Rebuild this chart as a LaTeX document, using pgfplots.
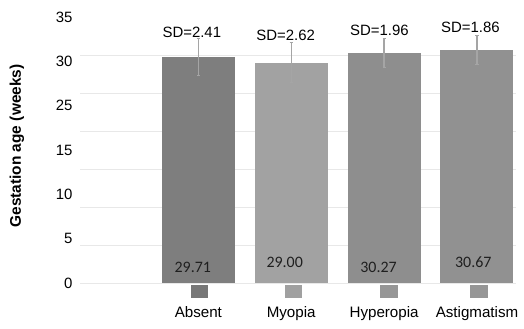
\documentclass[border=0pt]{standalone}
\usepackage{pgfplots}
\pgfplotsset{compat=1.18}
\usepackage{fontspec}
\setmainfont{Liberation Sans}
\newfontfamily\carlito{Carlito}
\definecolor{cAbs}{HTML}{7E7E7E}
\definecolor{cMyo}{HTML}{A2A2A2}
\definecolor{cHyp}{HTML}{8E8E8E}
\definecolor{cAst}{HTML}{919191}
\definecolor{lAbs}{HTML}{777777}
\definecolor{lMyo}{HTML}{A0A0A0}
\definecolor{lHyp}{HTML}{969696}
\definecolor{lAst}{HTML}{969696}
\definecolor{gridc}{HTML}{E8E8E8}
\definecolor{errc}{HTML}{A5A5A5}
\begin{document}
\begin{tikzpicture}
\begin{axis}[
  scale only axis, width=436bp, height=266bp,
  xmin=-1.274, xmax=3.42, ymin=0, ymax=35,
  clip=false,
  axis line style={draw=none},
  tick style={draw=none},
  /pgf/number format/assume math mode=true,
  ytick={0,5.8333,11.6667,17.5,23.3333,29.1667,35},
  yticklabels={0,5,10,15,25,30,35},
  yticklabel style={font=\fontsize{15}{18}\selectfont, xshift=-4bp},
  extra y ticks={0,5,10,15,20,25,30},
  extra y tick labels={},
  extra y tick style={grid=major, major grid style={gridc, line width=0.8bp}},
  xtick={0,1,2,3},
  xticklabels={Absent,Myopia,Hyperopia,Astigmatism},
  xticklabel style={font=\fontsize{15.2}{18}\selectfont, anchor=north, yshift=-16bp},
  ylabel={Gestation age (weeks)},
  every axis y label/.style={at={(axis description cs:-0.1445,0.515)}, rotate=90, anchor=center, font=\fontsize{15.5}{18}\selectfont\bfseries},
  ybar, bar width=73bp, bar shift=0pt,
  error bars/error bar style={errc, line width=1.3bp},
  error bars/error mark options={rotate=90, mark size=1.6bp, line width=1bp, errc},
]
\addplot[fill=cAbs, draw=none, error bars/.cd, y dir=both, y explicit] coordinates {(0,29.71) +- (0,2.41)};
\addplot[fill=cMyo, draw=none, error bars/.cd, y dir=both, y explicit] coordinates {(1,29.00) +- (0,2.62)};
\addplot[fill=cHyp, draw=none, error bars/.cd, y dir=both, y explicit] coordinates {(2,30.27) +- (0,1.96)};
\addplot[fill=cAst, draw=none, error bars/.cd, y dir=both, y explicit] coordinates {(3,30.67) +- (0,1.86)};
% legend squares
\addplot[only marks, mark=square*, mark size=6bp, mark options={xscale=1.38, lAbs, draw=none}] coordinates {(0.01,-1.05)};
\addplot[only marks, mark=square*, mark size=6bp, mark options={xscale=1.38, lMyo, draw=none}] coordinates {(1.02,-1.05)};
\addplot[only marks, mark=square*, mark size=6bp, mark options={xscale=1.38, lHyp, draw=none}] coordinates {(2.05,-1.05)};
\addplot[only marks, mark=square*, mark size=6bp, mark options={xscale=1.38, lAst, draw=none}] coordinates {(3.02,-1.05)};
% value labels inside bars
\addplot[only marks, mark=none, nodes near coords, point meta=explicit symbolic,
  every node near coord/.style={anchor=center, text=black!88, font=\carlito\fontsize{16}{18}\selectfont}]
  coordinates {(-0.06,2.1)[29.71] (0.93,2.76)[29.00] (1.94,2.1)[30.27] (2.96,2.76)[30.67]};
% SD labels
\addplot[only marks, mark=none, nodes near coords, point meta=explicit symbolic,
  every node near coord/.style={anchor=center, text=black, font=\fontsize{15}{18}\selectfont}]
  coordinates {(-0.07,33.0)[SD=2.41] (0.94,32.6)[SD=2.62] (1.95,33.3)[SD=1.96] (2.93,33.7)[SD=1.86]};
\end{axis}
\pgfresetboundingbox
\path (-80bp,-46bp) rectangle (444bp,283bp);
\end{tikzpicture}
\end{document}
